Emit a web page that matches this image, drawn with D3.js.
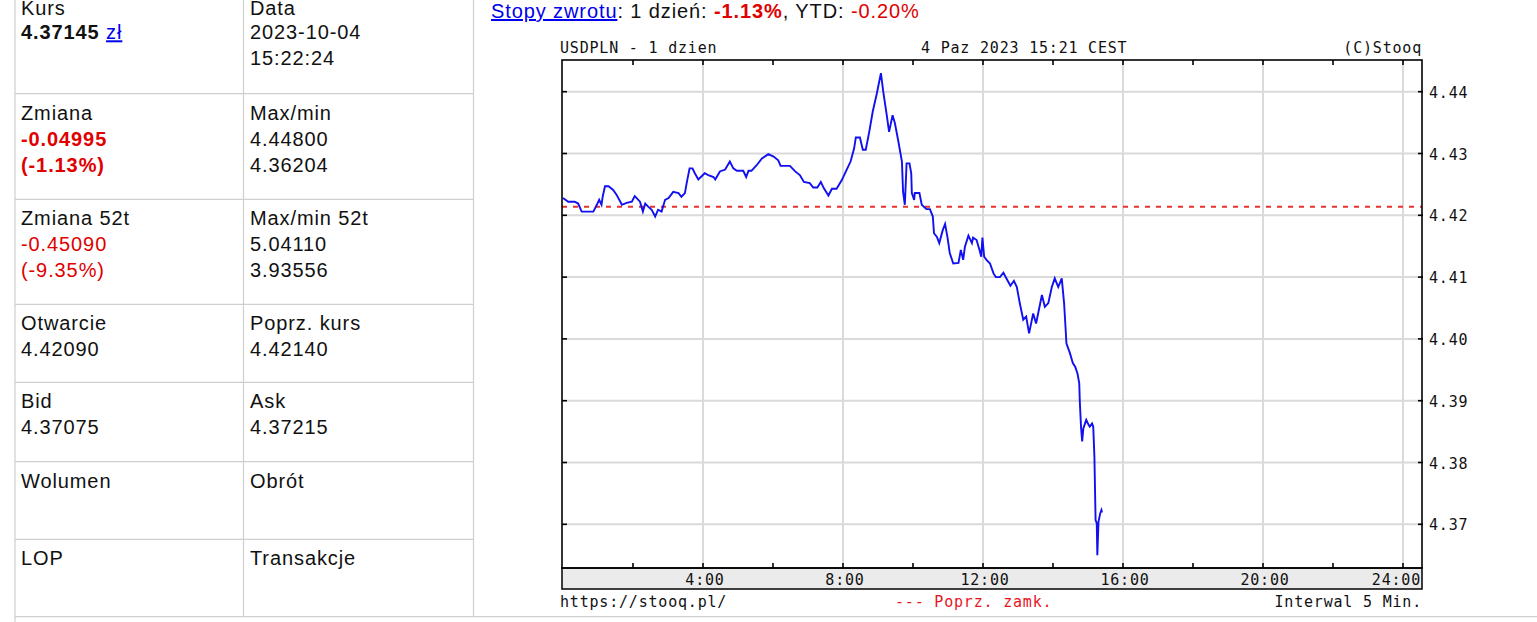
<!DOCTYPE html>
<html><head><meta charset="utf-8">
<script src="https://cdn.jsdelivr.net/npm/d3@7/dist/d3.min.js"></script>
<style>
html,body{margin:0;padding:0;background:#fff;overflow:hidden;}
svg text{font-family:"Liberation Sans",Arial,sans-serif;}
.mono{font-family:"DejaVu Sans Mono",monospace !important;font-size:15px;letter-spacing:0.8px;}
</style></head>
<body>
<svg id="page" width="1537" height="622"></svg>
<script>
// ---------- data ----------
const minutes = [
0, 9, 20, 26, 32, 52, 58, 62, 66, 68,
72, 78, 86, 92, 101, 109, 118, 123, 132, 137,
141, 146, 152, 158, 163, 169, 175, 181, 189, 198,
203, 209, 212, 217, 222, 226, 232, 243, 249, 258,
261, 269, 278, 286, 292, 298, 309, 314, 318, 323,
332, 341, 352, 361, 369, 373, 389, 398, 406, 413,
423, 429, 436, 442, 447, 455, 461, 469, 478, 486,
493, 499, 502, 509, 514, 519, 525, 531, 538, 545,
549, 555, 559, 565, 569, 575, 581, 583, 586, 589,
594, 597, 598, 602, 603, 611, 615, 623, 629, 634,
636, 641, 645, 651, 655, 659, 663, 669, 678, 682,
686, 689, 695, 701, 703, 709, 714, 717, 719, 722,
726, 732, 738, 742, 749, 755, 763, 767, 773, 778,
783, 789, 794, 799, 806, 811, 821, 826, 832, 838,
843, 849, 855, 859, 862, 863, 869, 874, 878, 882,
885, 886, 888, 890, 892, 897, 901, 903, 907, 909,
911, 913, 915, 916, 918, 921, 923, 924];
const prices = [
4.4228, 4.4222, 4.4222, 4.4219, 4.4206, 4.4206, 4.4217, 4.4225, 4.4217, 4.4230,
4.4247, 4.4247, 4.4241, 4.4233, 4.4217, 4.4220, 4.4222, 4.4231, 4.4222, 4.4206,
4.4219, 4.4214, 4.4209, 4.4198, 4.4209, 4.4206, 4.4225, 4.4228, 4.4238, 4.4236,
4.4230, 4.4236, 4.4252, 4.4276, 4.4276, 4.4268, 4.4258, 4.4268, 4.4265, 4.4262,
4.4258, 4.4271, 4.4274, 4.4287, 4.4276, 4.4272, 4.4272, 4.4262, 4.4272, 4.4272,
4.4281, 4.4292, 4.4299, 4.4295, 4.4289, 4.4280, 4.4280, 4.4271, 4.4265, 4.4254,
4.4252, 4.4245, 4.4245, 4.4254, 4.4244, 4.4232, 4.4243, 4.4243, 4.4257, 4.4273,
4.4287, 4.4308, 4.4326, 4.4326, 4.4306, 4.4306, 4.4335, 4.4368, 4.4397, 4.4430,
4.4400, 4.4362, 4.4335, 4.4362, 4.4349, 4.4319, 4.4287, 4.4238, 4.4217, 4.4284,
4.4284, 4.4268, 4.4236, 4.4225, 4.4236, 4.4236, 4.4217, 4.4210, 4.4210, 4.4198,
4.4171, 4.4165, 4.4155, 4.4176, 4.4186, 4.4165, 4.4139, 4.4122, 4.4123, 4.4144,
4.4128, 4.4149, 4.4167, 4.4155, 4.4164, 4.4160, 4.4144, 4.4133, 4.4164, 4.4133,
4.4128, 4.4122, 4.4106, 4.4100, 4.4100, 4.4107, 4.4093, 4.4086, 4.4094, 4.4084,
4.4058, 4.4031, 4.4036, 4.4009, 4.4041, 4.4025, 4.4071, 4.4052, 4.4058, 4.4084,
4.4098, 4.4084, 4.4098, 4.4058, 4.4010, 4.3993, 4.3977, 4.3961, 4.3955, 4.3944,
4.3928, 4.3898, 4.3858, 4.3834, 4.3855, 4.3869, 4.3861, 4.3858, 4.3863, 4.3858,
4.3809, 4.3707, 4.3702, 4.3650, 4.3704, 4.3718, 4.3723, 4.3719];
const prevClose = 4.4214;
const yTicks = [4.37, 4.38, 4.39, 4.40, 4.41, 4.42, 4.43, 4.44];
const xGridMinutes = [240, 480, 720, 960, 1200, 1440];
const xTickMinutes = [120, 240, 360, 480, 600, 720, 840, 960, 1080, 1200, 1320, 1440];
const xTickLabels = ["4:00", "8:00", "12:00", "16:00", "20:00", "24:00"];

const headerLeft = "USDPLN - 1 dzien";
const headerMid = "4 Paz 2023 15:21 CEST";
const headerRight = "(C)Stooq";
const footerLeft = "https://stooq.pl/";
const footerMid = "--- Poprz. zamk.";
const footerRight = "Interwal 5 Min.";

const tableLeft = [
  {label:"Kurs", lines:[{t:"4.37145", bold:true, link:"zł"}]},
  {label:"Zmiana", lines:[{t:"-0.04995", bold:true, red:true},{t:"(-1.13%)", bold:true, red:true}]},
  {label:"Zmiana 52t", lines:[{t:"-0.45090", red:true},{t:"(-9.35%)", red:true}]},
  {label:"Otwarcie", lines:[{t:"4.42090"}]},
  {label:"Bid", lines:[{t:"4.37075"}]},
  {label:"Wolumen", lines:[]},
  {label:"LOP", lines:[]}
];
const tableRight = [
  {label:"Data", lines:[{t:"2023-10-04"},{t:"15:22:24"}]},
  {label:"Max/min", lines:[{t:"4.44800"},{t:"4.36204"}]},
  {label:"Max/min 52t", lines:[{t:"5.04110"},{t:"3.93556"}]},
  {label:"Poprz. kurs", lines:[{t:"4.42140"}]},
  {label:"Ask", lines:[{t:"4.37215"}]},
  {label:"Obrót", lines:[]},
  {label:"Transakcje", lines:[]}
];

// ---------- page ----------
const svg = d3.select("#page");
svg.append("rect").attr("width",1537).attr("height",622).attr("fill","#fff");

// table
const rowTops = [-12.7, 93.7, 199.3, 304.3, 382.3, 461.7, 539.3];
const rowLines = [93.7, 199.3, 304.3, 382.3, 461.7, 539.3, 616.7];
const tg = svg.append("g");
const gridCol = "#cfcfcf";
rowLines.forEach(y => tg.append("line").attr("x1",15).attr("x2", y===616.7?1537:473.5).attr("y1",y).attr("y2",y).attr("stroke",gridCol).attr("stroke-width",1.2));
tg.append("line").attr("x1",15).attr("x2",15).attr("y1",0).attr("y2",622).attr("stroke",gridCol).attr("stroke-width",1.2);
tg.append("line").attr("x1",243.5).attr("x2",243.5).attr("y1",0).attr("y2",616.7).attr("stroke",gridCol).attr("stroke-width",1.2);
tg.append("line").attr("x1",473.5).attr("x2",473.5).attr("y1",0).attr("y2",616.7).attr("stroke",gridCol).attr("stroke-width",1.2);

function drawCells(cells, x){
  cells.forEach((c,i)=>{
    const base = rowTops[i] + 26;
    const style = "font-size:20px;letter-spacing:0.9px;";
    tg.append("text").attr("x",x).attr("y", i===0 ? base+2 : base).attr("fill","#111").attr("style",style).text(c.label);
    c.lines.forEach((l,j)=>{
      const t = tg.append("text").attr("x",x).attr("y",base+26*(j+1)).attr("style",style)
        .attr("fill", l.red ? "#e00000" : "#111").attr("font-weight", l.bold ? "bold":"normal");
      t.append("tspan").text(l.t);
      if(l.link){
        t.append("tspan").attr("font-weight","normal").text(" ");
        t.append("tspan").attr("font-weight","normal").attr("fill","#0000ee").attr("text-decoration","underline").text(l.link);
      }
    });
  });
}
drawCells(tableLeft, 21);
drawCells(tableRight, 250);

// top return line
const rt = svg.append("text").attr("x",491).attr("y",18).attr("style","font-size:20px;letter-spacing:0.9px;").attr("fill","#111");
rt.append("tspan").attr("fill","#0000ee").attr("text-decoration","underline").text("Stopy zwrotu");
rt.append("tspan").text(": 1 dzień: ");
rt.append("tspan").attr("fill","#e00000").attr("font-weight","bold").text("-1.13%");
rt.append("tspan").text(", YTD: ");
rt.append("tspan").attr("fill","#e00000").text("-0.20%");

// ---------- chart ----------
const x = d3.scaleLinear().domain([0,1440]).range([563,1403]);
const y = d3.scaleLinear().domain([4.37,4.44]).range([524.3,91.7]);
const L = 562, R = 1422, T = 60, B = 568, BB = 589;
const cg = svg.append("g");

// gridlines
cg.selectAll(".hg").data(yTicks).join("line").attr("x1",L).attr("x2",R)
  .attr("y1",d=>y(d)).attr("y2",d=>y(d)).attr("stroke","#dadada").attr("stroke-width",2);
cg.selectAll(".vg").data(xGridMinutes).join("line").attr("x1",d=>x(d)).attr("x2",d=>x(d))
  .attr("y1",T).attr("y2",B).attr("stroke","#dadada").attr("stroke-width",2);

// previous close
cg.append("line").attr("x1",L).attr("x2",R).attr("y1",y(prevClose)).attr("y2",y(prevClose))
  .attr("stroke","#e8322e").attr("stroke-width",2).attr("stroke-dasharray","5,6");

// price line
const line = d3.line().x((d,i)=>x(minutes[i])).y(d=>y(d));
cg.append("path").attr("d", line(prices)).attr("fill","none").attr("stroke","#1010f0").attr("stroke-width",1.9).attr("stroke-linejoin","miter");

// bottom band
cg.append("rect").attr("x",L).attr("y",B).attr("width",R-L).attr("height",BB-B).attr("fill","#ebebeb").attr("stroke","#000").attr("stroke-width",1.5);
// frame
cg.append("rect").attr("x",L).attr("y",T).attr("width",R-L).attr("height",B-T).attr("fill","none").attr("stroke","#000").attr("stroke-width",1.6);

// ticks
cg.selectAll(".tt").data(xTickMinutes).join("line").attr("x1",d=>x(d)).attr("x2",d=>x(d)).attr("y1",T).attr("y2",T+5).attr("stroke","#000").attr("stroke-width",1.6);
cg.selectAll(".bt").data(xTickMinutes).join("line").attr("x1",d=>x(d)).attr("x2",d=>x(d)).attr("y1",B-5).attr("y2",B).attr("stroke","#000").attr("stroke-width",1.6);
cg.selectAll(".lt").data(yTicks).join("line").attr("x1",L).attr("x2",L+5).attr("y1",d=>y(d)).attr("y2",d=>y(d)).attr("stroke","#000").attr("stroke-width",1.6);
cg.selectAll(".rtk").data(yTicks).join("line").attr("x1",R-4).attr("x2",R+1).attr("y1",d=>y(d)).attr("y2",d=>y(d)).attr("stroke","#000").attr("stroke-width",1.6);

// y labels
cg.selectAll(".yl").data(yTicks).join("text").attr("class","mono").attr("x",R+7).attr("y",d=>y(d)+6)
  .attr("fill","#111").text(d=>d3.format(".2f")(d));
// x labels
cg.selectAll(".xl").data(xGridMinutes).join("text").attr("class","mono")
  .attr("x",(d,i)=> i===xGridMinutes.length-1 ? R-1 : x(d)+2)
  .attr("text-anchor",(d,i)=> i===xGridMinutes.length-1 ? "end":"middle")
  .attr("y",585).attr("fill","#111").text((d,i)=>xTickLabels[i]);

// header / footer
cg.append("text").attr("class","mono").attr("x",L-2).attr("y",52.5).attr("fill","#111").text(headerLeft);
cg.append("text").attr("class","mono").attr("x",921).attr("y",52.5).attr("fill","#111").text(headerMid);
cg.append("text").attr("class","mono").attr("x",R).attr("y",52.5).attr("text-anchor","end").attr("fill","#111").text(headerRight);
cg.append("text").attr("class","mono").attr("x",L-2).attr("y",607).attr("fill","#111").text(footerLeft);
cg.append("text").attr("class","mono").attr("x",895).attr("y",607).attr("fill","#e8141e").text(footerMid);
cg.append("text").attr("class","mono").attr("x",R).attr("y",607).attr("text-anchor","end").attr("fill","#111").text(footerRight);
</script>
</body></html>
